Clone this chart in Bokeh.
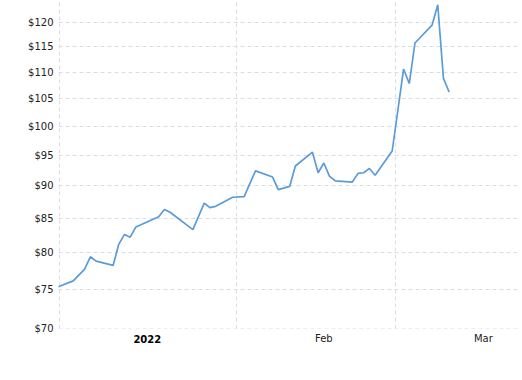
import pandas as pd
from bokeh.plotting import figure
from bokeh.models import Range1d, FixedTicker, PrintfTickFormatter, DatetimeAxis
from bokeh.embed import file_html
from bokeh.resources import INLINE

# ---- data ----
dates = ["2021-12-31", "2022-01-03", "2022-01-05", "2022-01-06", "2022-01-07",
         "2022-01-10", "2022-01-11", "2022-01-12", "2022-01-13", "2022-01-14",
         "2022-01-18", "2022-01-19", "2022-01-20", "2022-01-24", "2022-01-26",
         "2022-01-27", "2022-01-28", "2022-01-31", "2022-02-02", "2022-02-04",
         "2022-02-07", "2022-02-08", "2022-02-10", "2022-02-11", "2022-02-14",
         "2022-02-15", "2022-02-16", "2022-02-17", "2022-02-18", "2022-02-21",
         "2022-02-22", "2022-02-23", "2022-02-24", "2022-02-25", "2022-02-28",
         "2022-03-02", "2022-03-03", "2022-03-04", "2022-03-07", "2022-03-08",
         "2022-03-09", "2022-03-10"]
prices = [75.2, 76.1, 77.7, 79.4, 78.8, 78.2, 81.2, 82.6, 82.2, 83.7,
          85.2, 86.3, 85.9, 83.3, 87.3, 86.6, 86.8, 88.2, 88.3, 92.4,
          91.4, 89.4, 89.9, 93.2, 95.5, 92.1, 93.7, 91.5, 90.8, 90.6,
          92.0, 92.1, 92.8, 91.7, 95.7, 110.6, 107.8, 115.8, 119.5, 123.9,
          108.8, 106.2]
y_ticks = [70, 75, 80, 85, 90, 95, 100, 105, 110, 115, 120]
month_starts = ["2022-01-01", "2022-02-01", "2022-03-01"]
month_labels = ["2022", "Feb", "Mar"]
label_days = ["2022-01-16", "2022-02-16", "2022-03-16"]

DAY = 86400000.0
OFFSET = pd.Timedelta(hours=10)


def ms(ts):
    return pd.Timestamp(ts).value / 1e6


xs = [ms(pd.Timestamp(d) + OFFSET) for d in dates]
grid_ticks = [ms(d) for d in month_starts]
lab_ticks = [ms(pd.Timestamp(d) + OFFSET) for d in label_days]

x_start = grid_ticks[0] - 0.1756 * DAY
x_end = grid_ticks[2] + 21.42 * DAY

p = figure(width=522, height=380, x_axis_type="datetime", y_axis_type="log",
           x_range=Range1d(x_start, x_end), y_range=Range1d(69.96, 124.82),
           output_backend="svg", toolbar_location=None,
           min_border_left=58, min_border_right=5, min_border_top=0,
           min_border_bottom=52)
p.outline_line_color = None
p.background_fill_color = "white"
p.border_fill_color = "white"

p.line(xs, prices, line_color="#5b9bd8", line_width=1.7)

FONT = "DejaVu Sans"

# y axis
ya = p.yaxis[0]
ya.ticker = FixedTicker(ticks=y_ticks)
ya.formatter = PrintfTickFormatter(format="$%d")
ya.axis_line_color = None
ya.major_tick_out = 0
ya.major_tick_in = 0
ya.minor_tick_out = 0
ya.minor_tick_in = 0
ya.major_label_standoff = 5
ya.major_label_text_font = FONT
ya.major_label_text_font_size = "10px"
ya.major_label_text_color = "#222222"


def style_x(ax, standoff, bold, color):
    ax.axis_line_color = None
    ax.major_tick_out = 0
    ax.major_tick_in = 0
    ax.minor_tick_out = 0
    ax.minor_tick_in = 0
    ax.major_label_standoff = standoff
    ax.major_label_text_font = FONT
    ax.major_label_text_font_size = "10px"
    ax.major_label_text_color = color
    ax.major_label_text_font_style = "bold" if bold else "normal"


# x axis closest to the frame: bold year label
xa = p.xaxis[0]
xa.ticker = FixedTicker(ticks=lab_ticks[:1])
xa.major_label_overrides = {lab_ticks[0]: month_labels[0]}
style_x(xa, 6, True, "#000000")

# second axis for the month labels, pulled up to the same line
xb = DatetimeAxis(ticker=FixedTicker(ticks=lab_ticks[1:]))
xb.major_label_overrides = {lab_ticks[1]: month_labels[1], lab_ticks[2]: month_labels[2]}
style_x(xb, -13, False, "#222222")
p.add_layout(xb, "below")

# grids
p.xgrid.ticker = FixedTicker(ticks=grid_ticks)
for g in (p.xgrid[0], p.ygrid[0]):
    g.grid_line_color = "#dddddd"
    g.grid_line_dash = "4 3"
    g.grid_line_width = 1

open("out.html", "w").write(file_html(p, INLINE))
